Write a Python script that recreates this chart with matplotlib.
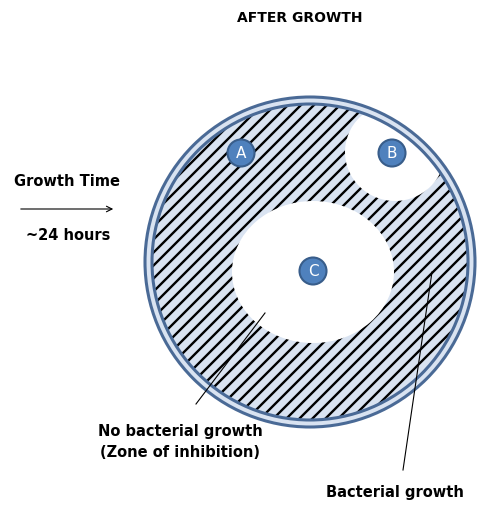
import numpy as np
import matplotlib.pyplot as plt
from matplotlib.patches import Circle, Ellipse

# dish and zones (pixel coords of the reference picture)
dish_center = (310, 262)
dish_radius = 165
zone_names = ["A", "B", "C"]
zone_x = [241, 392, 313]
zone_y = [153, 153, 271]
clear_zones = [(395, 152, 100, 98), (313, 272, 162, 142)]  # x, y, width, height

fig = plt.figure(figsize=(4.95, 5.14), dpi=100)
ax = fig.add_axes([0, 0, 1, 1])
ax.set_xlim(0, 495)
ax.set_ylim(514, 0)
ax.set_aspect("equal")
ax.axis("off")

edge = "#4a6a96"
fill = "#d9e3f1"

# outer ring of the dish
ax.add_patch(Circle(dish_center, dish_radius, facecolor=fill, edgecolor=edge, lw=2.2, zorder=1))
inner = Circle(dish_center, dish_radius - 7, facecolor=fill, edgecolor="none", zorder=2)
ax.add_patch(inner)

# diagonal stripes of bacterial growth, clipped to the agar
cx, cy = dish_center
for off in np.arange(-400, 400, 13):
    xs = np.array([cx + off - 200, cx + off + 200])
    ys = np.array([cy + 200, cy - 200]) * 1.0
    ln, = ax.plot(xs, ys, color="black", lw=1.7, zorder=3, solid_capstyle="butt")
    ln.set_clip_path(inner)

# clear zones of inhibition
for x, y, w, h in clear_zones:
    z = Ellipse((x, y), w, h, facecolor="white", edgecolor="none", zorder=4)
    ax.add_patch(z)
    z.set_clip_path(inner)

# inner edge of the dish on top
ax.add_patch(Circle(dish_center, dish_radius - 7, facecolor="none", edgecolor=edge, lw=2.2, zorder=4.5))

# antibiotic discs
for name, x, y in zip(zone_names, zone_x, zone_y):
    ax.add_patch(Circle((x, y), 13.5, facecolor="#4f81bd", edgecolor="#385d8a", lw=1.5, zorder=5))
    ax.text(x, y + 1, name, color="white", fontsize=11, ha="center", va="center", zorder=6,
            family="DejaVu Sans")

bold = dict(fontweight="bold", family="DejaVu Sans", fontsize=10.5)
ax.text(300, 18, "AFTER GROWTH", ha="center", va="center", fontsize=10,
        fontweight="bold", family="DejaVu Sans")
ax.text(67, 181, "Growth Time", ha="center", va="center", **bold)
ax.annotate("", xy=(116, 209), xytext=(18, 209),
            arrowprops=dict(arrowstyle="->", color="black", lw=0.8))
ax.text(68, 236, "~24 hours", ha="center", va="center", **bold)

ax.plot([196, 265], [404, 313], color="black", lw=0.8, zorder=7)
ax.text(180, 442, "No bacterial growth\n(Zone of inhibition)", ha="center", va="center",
        linespacing=1.45, **bold)
ax.plot([403, 432], [470, 272], color="black", lw=0.8, zorder=7)
ax.text(395, 492, "Bacterial growth", ha="center", va="center", **bold)

fig.savefig("out.png", dpi=100)
